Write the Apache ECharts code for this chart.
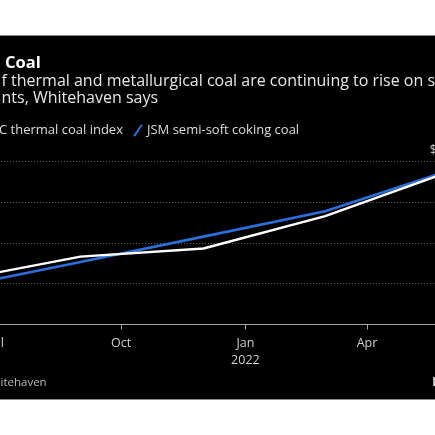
<!DOCTYPE html>
<html>
<head>
<meta charset="utf-8">
<script src="https://cdn.jsdelivr.net/npm/echarts@6/dist/echarts.min.js"></script>
<style>
html,body{margin:0;padding:0;width:435px;height:435px;overflow:hidden;background:#fff;}
#frame{position:absolute;left:0;top:35px;width:435px;height:363px;background:#000;border-top:1px solid #8a8a8a;border-bottom:1px solid #8a8a8a;}
#chart{position:absolute;left:-60px;top:0;width:560px;height:435px;}
</style>
</head>
<body>
<div id="frame"></div>
<div id="chart"></div>
<script>
// ---- data ----
var dates = ['2021-06-01', '2021-09-01', '2021-12-01', '2022-03-01', '2022-06-01'];
var thermalIndex = [108, 166, 186, 265, 374];     // "...C thermal coal index" (white)
var semiSoftCoking = [91, 153, 215, 277, 377];    // "JSM semi-soft coking coal" (blue)
var tickDates = ['2021-07-01', '2021-10-01', '2022-01-01', '2022-04-01'];
var tickLabels = ['Jul', 'Oct', 'Jan\n2022', 'Apr'];
var yTicks = [0, 100, 200, 300, 400];
var seriesNames = ['C thermal coal index', 'JSM semi-soft coking coal'];
var titleText = 'Coal';
var subtitleText = 'f thermal and metallurgical coal are continuing to rise on s\nnts, Whitehaven says';
var sourceText = 'itehaven';

var FONT = 'Open Sans';
function ts(d) { return Date.parse(d); }
var tickTs = tickDates.map(ts);
function pairs(vals) { return dates.map(function (d, i) { return [ts(d), vals[i]]; }); }

var chart = echarts.init(document.getElementById('chart'), null, { renderer: 'canvas' });
var slash = 'path://M8,0 L10.5,0 L2.5,12 L0,12 Z';
chart.setOption({
  backgroundColor: 'transparent',
  animation: false,
  textStyle: { fontFamily: FONT },
  title: [
    { text: titleText, left: 65, top: 54.5, padding: 0,
      textStyle: { color: '#ffffff', fontSize: 16.5, fontWeight: 'bold', fontFamily: FONT } },
    { text: subtitleText, left: 61.5, top: 73.5, padding: 0,
      textStyle: { color: '#e6e6e6', fontSize: 16, fontWeight: 'normal', lineHeight: 16.8, fontFamily: FONT } },
    { text: sourceText, left: 60.5, top: 376.5, padding: 0,
      textStyle: { color: '#bdbdbd', fontSize: 11.5, fontWeight: 'normal', fontFamily: FONT } },
    { text: 'Bloomberg', left: 492, top: 376, padding: 0,
      textStyle: { color: '#d0d0d0', fontSize: 13, fontWeight: 'bold', fontFamily: FONT } }
  ],
  legend: {
    left: 45, top: 124, padding: 0,
    itemWidth: 10, itemHeight: 12, itemGap: 10,
    icon: slash,
    data: [seriesNames[0], seriesNames[1]],
    textStyle: { color: '#dddddd', fontSize: 13, padding: [0, 0, 0, -1], fontFamily: FONT },
    selectedMode: false
  },
  grid: { left: 16.15, right: 39.7, top: 161, bottom: 110.5, containLabel: false },
  xAxis: {
    type: 'value',
    min: ts('2021-06-01'),
    max: ts('2022-06-09'),
    splitLine: { show: false },
    axisLine: { show: true, lineStyle: { color: '#a8a8a8', width: 1 } },
    axisTick: { show: true, length: 5, lineStyle: { color: '#a8a8a8' }, customValues: tickTs },
    axisLabel: {
      color: '#d0d0d0', fontSize: 12.5, margin: 10.5, lineHeight: 17, fontFamily: FONT,
      customValues: tickTs,
      formatter: function (v) {
        for (var i = 0; i < tickTs.length; i++) { if (Math.abs(tickTs[i] - v) < 86400000) return tickLabels[i]; }
        return '';
      }
    }
  },
  yAxis: {
    type: 'value', position: 'right',
    min: yTicks[0], max: yTicks[yTicks.length - 1], interval: 100,
    axisLine: { show: false }, axisTick: { show: false },
    splitLine: { show: true, lineStyle: { color: '#6a6a6a', type: [1, 2], width: 1 } },
    axisLabel: {
      inside: true, margin: 3, color: '#cccccc', fontSize: 12, verticalAlign: 'bottom',
      padding: [0, 0, 4, 0], fontFamily: FONT,
      formatter: function (v) { return v === 400 ? '$' + v : String(v); }
    }
  },
  series: [
    { name: seriesNames[1], type: 'line', data: pairs(semiSoftCoking), symbol: 'none',
      lineStyle: { color: '#2a6fdc', width: 2.6 }, itemStyle: { color: '#2a6fdc' }, z: 2 },
    { name: seriesNames[0], type: 'line', data: pairs(thermalIndex), symbol: 'none',
      lineStyle: { color: '#ffffff', width: 2.4 }, itemStyle: { color: '#ffffff' }, z: 3 }
  ]
});
</script>
</body>
</html>
